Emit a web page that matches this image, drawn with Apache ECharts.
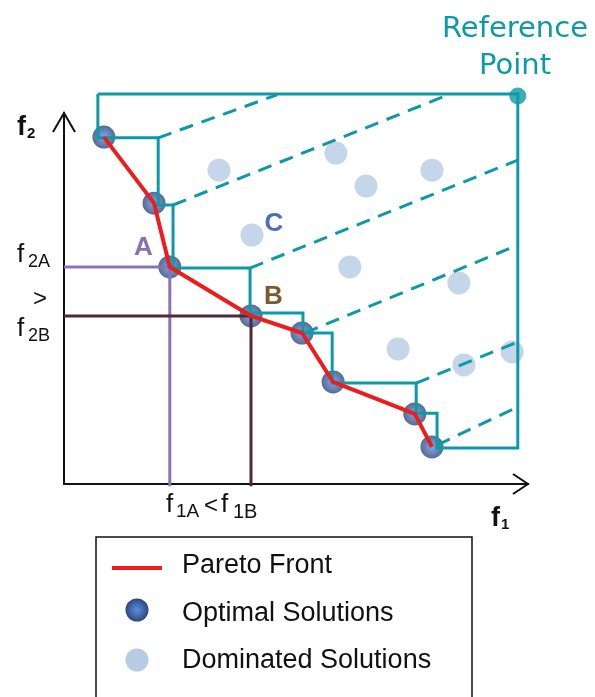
<!DOCTYPE html>
<html>
<head>
<meta charset="utf-8">
<script src="https://cdn.jsdelivr.net/npm/echarts@6/dist/echarts.min.js"></script>
<style>
  html, body { margin: 0; padding: 0; background: #fff; }
  #chart { width: 595px; height: 697px; }
</style>
</head>
<body>
<div id="chart"></div>
<script>
// optimal solutions (Pareto front), f1 / f2 in axis units 0..100
const optF1 = [8.6, 19.4, 22.8, 40.3, 51.3, 58.0, 75.6, 79.3];
const optF2 = [93.5, 75.7, 58.5, 45.3, 40.7, 27.5, 18.9, 10.0];

// dominated solutions
const domF1 = [33.4, 58.6, 65.1, 79.3, 40.5, 61.6, 85.1, 72.0, 86.2, 96.6];
const domF2 = [84.6, 89.2, 80.3, 84.6, 67.1, 58.5, 54.2, 36.4, 32.1, 35.6];

// hypervolume boundary, step corners (horizontal first, then vertical)
const hvF1 = [7.3, 7.3, 20.3, 23.5, 40.1, 51.5, 57.8, 75.9, 80.4, 97.8, 7.3];
const hvF2 = [105.1, 93.3, 75.2, 58.2, 46.1, 40.7, 27.2, 19.1, 9.7, 105.1, 105.1];

// dashed slices: start and end of each
const dashStartF1 = [20.3, 23.5, 40.1, 51.9, 75.9, 80.4];
const dashStartF2 = [93.3, 75.2, 58.2, 40.7, 27.2, 10.5];
const dashEndF1   = [45.9, 82.8, 97.8, 97.8, 97.8, 97.8];
const dashEndF2   = [104.9, 104.9, 87.3, 64.4, 38.3, 20.8];

const refPoint = [97.8, 104.6];
const idxA = 2, idxB = 3;

const TEAL = '#0d9aa7';
const RED = '#ee1c1c';
const optColor = {
  type: 'radial', x: 0.5, y: 0.5, r: 0.5,
  colorStops: [
    { offset: 0, color: '#5b8fdc' },
    { offset: 0.45, color: '#4671b6' },
    { offset: 1, color: '#2c4778' }
  ]
};

const zip = (a, b) => a.map((v, i) => [v, b[i]]);

// build step path
const hvPath = [[hvF1[0], hvF2[0]]];
for (let i = 1; i < hvF1.length; i++) {
  hvPath.push([hvF1[i], hvF2[i - 1]]);
  hvPath.push([hvF1[i], hvF2[i]]);
}

const lineBase = { type: 'line', symbol: 'none', clip: false, silent: true, animation: false };

const dashSeries = dashStartF1.map((x, i) => Object.assign({}, lineBase, {
  data: [[x, dashStartF2[i]], [dashEndF1[i], dashEndF2[i]]],
  lineStyle: { color: TEAL, width: 3, type: [14, 9] }
}));

const fA = [optF1[idxA], optF2[idxA]];
const fB = [optF1[idxB], optF2[idxB]];

const chart = echarts.init(document.getElementById('chart'), null, { renderer: 'canvas' });

const txt = (x, y, text, size, opts) => ({
  type: 'text', x, y, silent: true,
  style: Object.assign({
    text, fontSize: size, fontFamily: 'Liberation Sans, Arial, sans-serif',
    fill: '#111', align: 'left', verticalAlign: 'middle'
  }, opts || {})
});

chart.setOption({
  animation: false,
  grid: { left: 64, right: 67, top: 113, bottom: 213 },
  xAxis: {
    type: 'value', min: 0, max: 100,
    axisLine: { show: true, lineStyle: { color: '#111', width: 2 } },
    axisTick: { show: false }, axisLabel: { show: false }, splitLine: { show: false }
  },
  yAxis: {
    type: 'value', min: 0, max: 100,
    axisLine: { show: true, lineStyle: { color: '#111', width: 2 } },
    axisTick: { show: false }, axisLabel: { show: false }, splitLine: { show: false }
  },
  series: [
    { type: 'scatter', data: zip(domF1, domF2), symbolSize: 23, itemStyle: { color: '#b7cbe5' }, silent: true },
    Object.assign({}, lineBase, { data: [fA, [0, fA[1]]], lineStyle: { color: '#8b72b5', width: 3 } }),
    Object.assign({}, lineBase, { data: [fA, [fA[0], -0.6]], lineStyle: { color: '#8b72b5', width: 3 } }),
    Object.assign({}, lineBase, { data: [fB, [0, fB[1]]], lineStyle: { color: '#4e2a3a', width: 3 } }),
    Object.assign({}, lineBase, { data: [fB, [fB[0], -0.6]], lineStyle: { color: '#4e2a3a', width: 3 } }),
    { type: 'scatter', data: zip(optF1, optF2), symbolSize: 23, itemStyle: { color: optColor }, silent: true },
    Object.assign({}, lineBase, { data: hvPath, lineStyle: { color: TEAL, width: 3, join: 'miter' } }),
    ...dashSeries,
    Object.assign({}, lineBase, { data: zip(optF1, optF2), lineStyle: { color: RED, width: 4 } }),
    { type: 'scatter', data: [refPoint], symbolSize: 17, itemStyle: { color: TEAL }, clip: false, silent: true },
    // open arrow heads at the axis ends
    {
      type: 'custom', silent: true, clip: false,
      data: [[100, 0, 0], [0, 100, 1]],
      renderItem: (params, api) => {
        const p = api.coord([api.value(0), api.value(1)]);
        const pts = api.value(2) === 0
          ? [[p[0] - 15, p[1] - 10], p, [p[0] - 15, p[1] + 10]]
          : [[p[0] - 11, p[1] + 19], p, [p[0] + 11, p[1] + 19]];
        return { type: 'polyline', shape: { points: pts },
          style: { stroke: '#111', lineWidth: 2, fill: null } };
      }
    }
  ],
  graphic: [
    // axis names
    txt(17, 128, 'f', 27, { fontWeight: 'bold' }),
    txt(27, 134, '2', 15, { fontWeight: 'bold' }),
    txt(491, 519, 'f', 27, { fontWeight: 'bold' }),
    txt(501, 525, '1', 15, { fontWeight: 'bold' }),
    // f2A > f2B
    txt(17, 255, 'f', 26),
    txt(28, 262, '2A', 18),
    txt(33, 299, '>', 24),
    txt(17, 329, 'f', 26),
    txt(28, 336, '2B', 18),
    // f1A < f1B
    txt(166, 505, 'f', 26),
    txt(176, 512, '1A', 19),
    txt(204, 506, '<', 24),
    txt(221, 505, 'f', 26),
    txt(233, 512, '1B', 20),
    // point labels
    txt(143.5, 248, 'A', 26, { fontWeight: 'bold', fill: '#8a70b2', align: 'center' }),
    txt(273.5, 297, 'B', 26, { fontWeight: 'bold', fill: '#7d5a2c', align: 'center' }),
    txt(274, 224, 'C', 26, { fontWeight: 'bold', fill: '#4e6cbf', align: 'center' }),
    // reference point
    txt(515, 29, 'Reference', 29, { fontFamily: 'DejaVu Sans, sans-serif', fill: TEAL, align: 'center' }),
    txt(515, 66, 'Point', 29, { fontFamily: 'DejaVu Sans, sans-serif', fill: TEAL, align: 'center' }),
    // legend box
    { type: 'rect', silent: true, shape: { x: 96, y: 537, width: 376, height: 200 },
      style: { fill: '#fff', stroke: '#111', lineWidth: 1.5 } },
    { type: 'line', silent: true, shape: { x1: 112, y1: 568, x2: 162, y2: 568 },
      style: { stroke: RED, lineWidth: 4 } },
    { type: 'circle', silent: true, shape: { cx: 137, cy: 610, r: 11.5 },
      style: { fill: new echarts.graphic.RadialGradient(0.5, 0.5, 0.5, optColor.colorStops) } },
    { type: 'circle', silent: true, shape: { cx: 137, cy: 660, r: 11.5 }, style: { fill: '#b7cbe5' } },
    txt(182, 566, 'Pareto Front', 27),
    txt(182, 614, 'Optimal Solutions', 27),
    txt(182, 661, 'Dominated Solutions', 27)
  ]
});
</script>
</body>
</html>
